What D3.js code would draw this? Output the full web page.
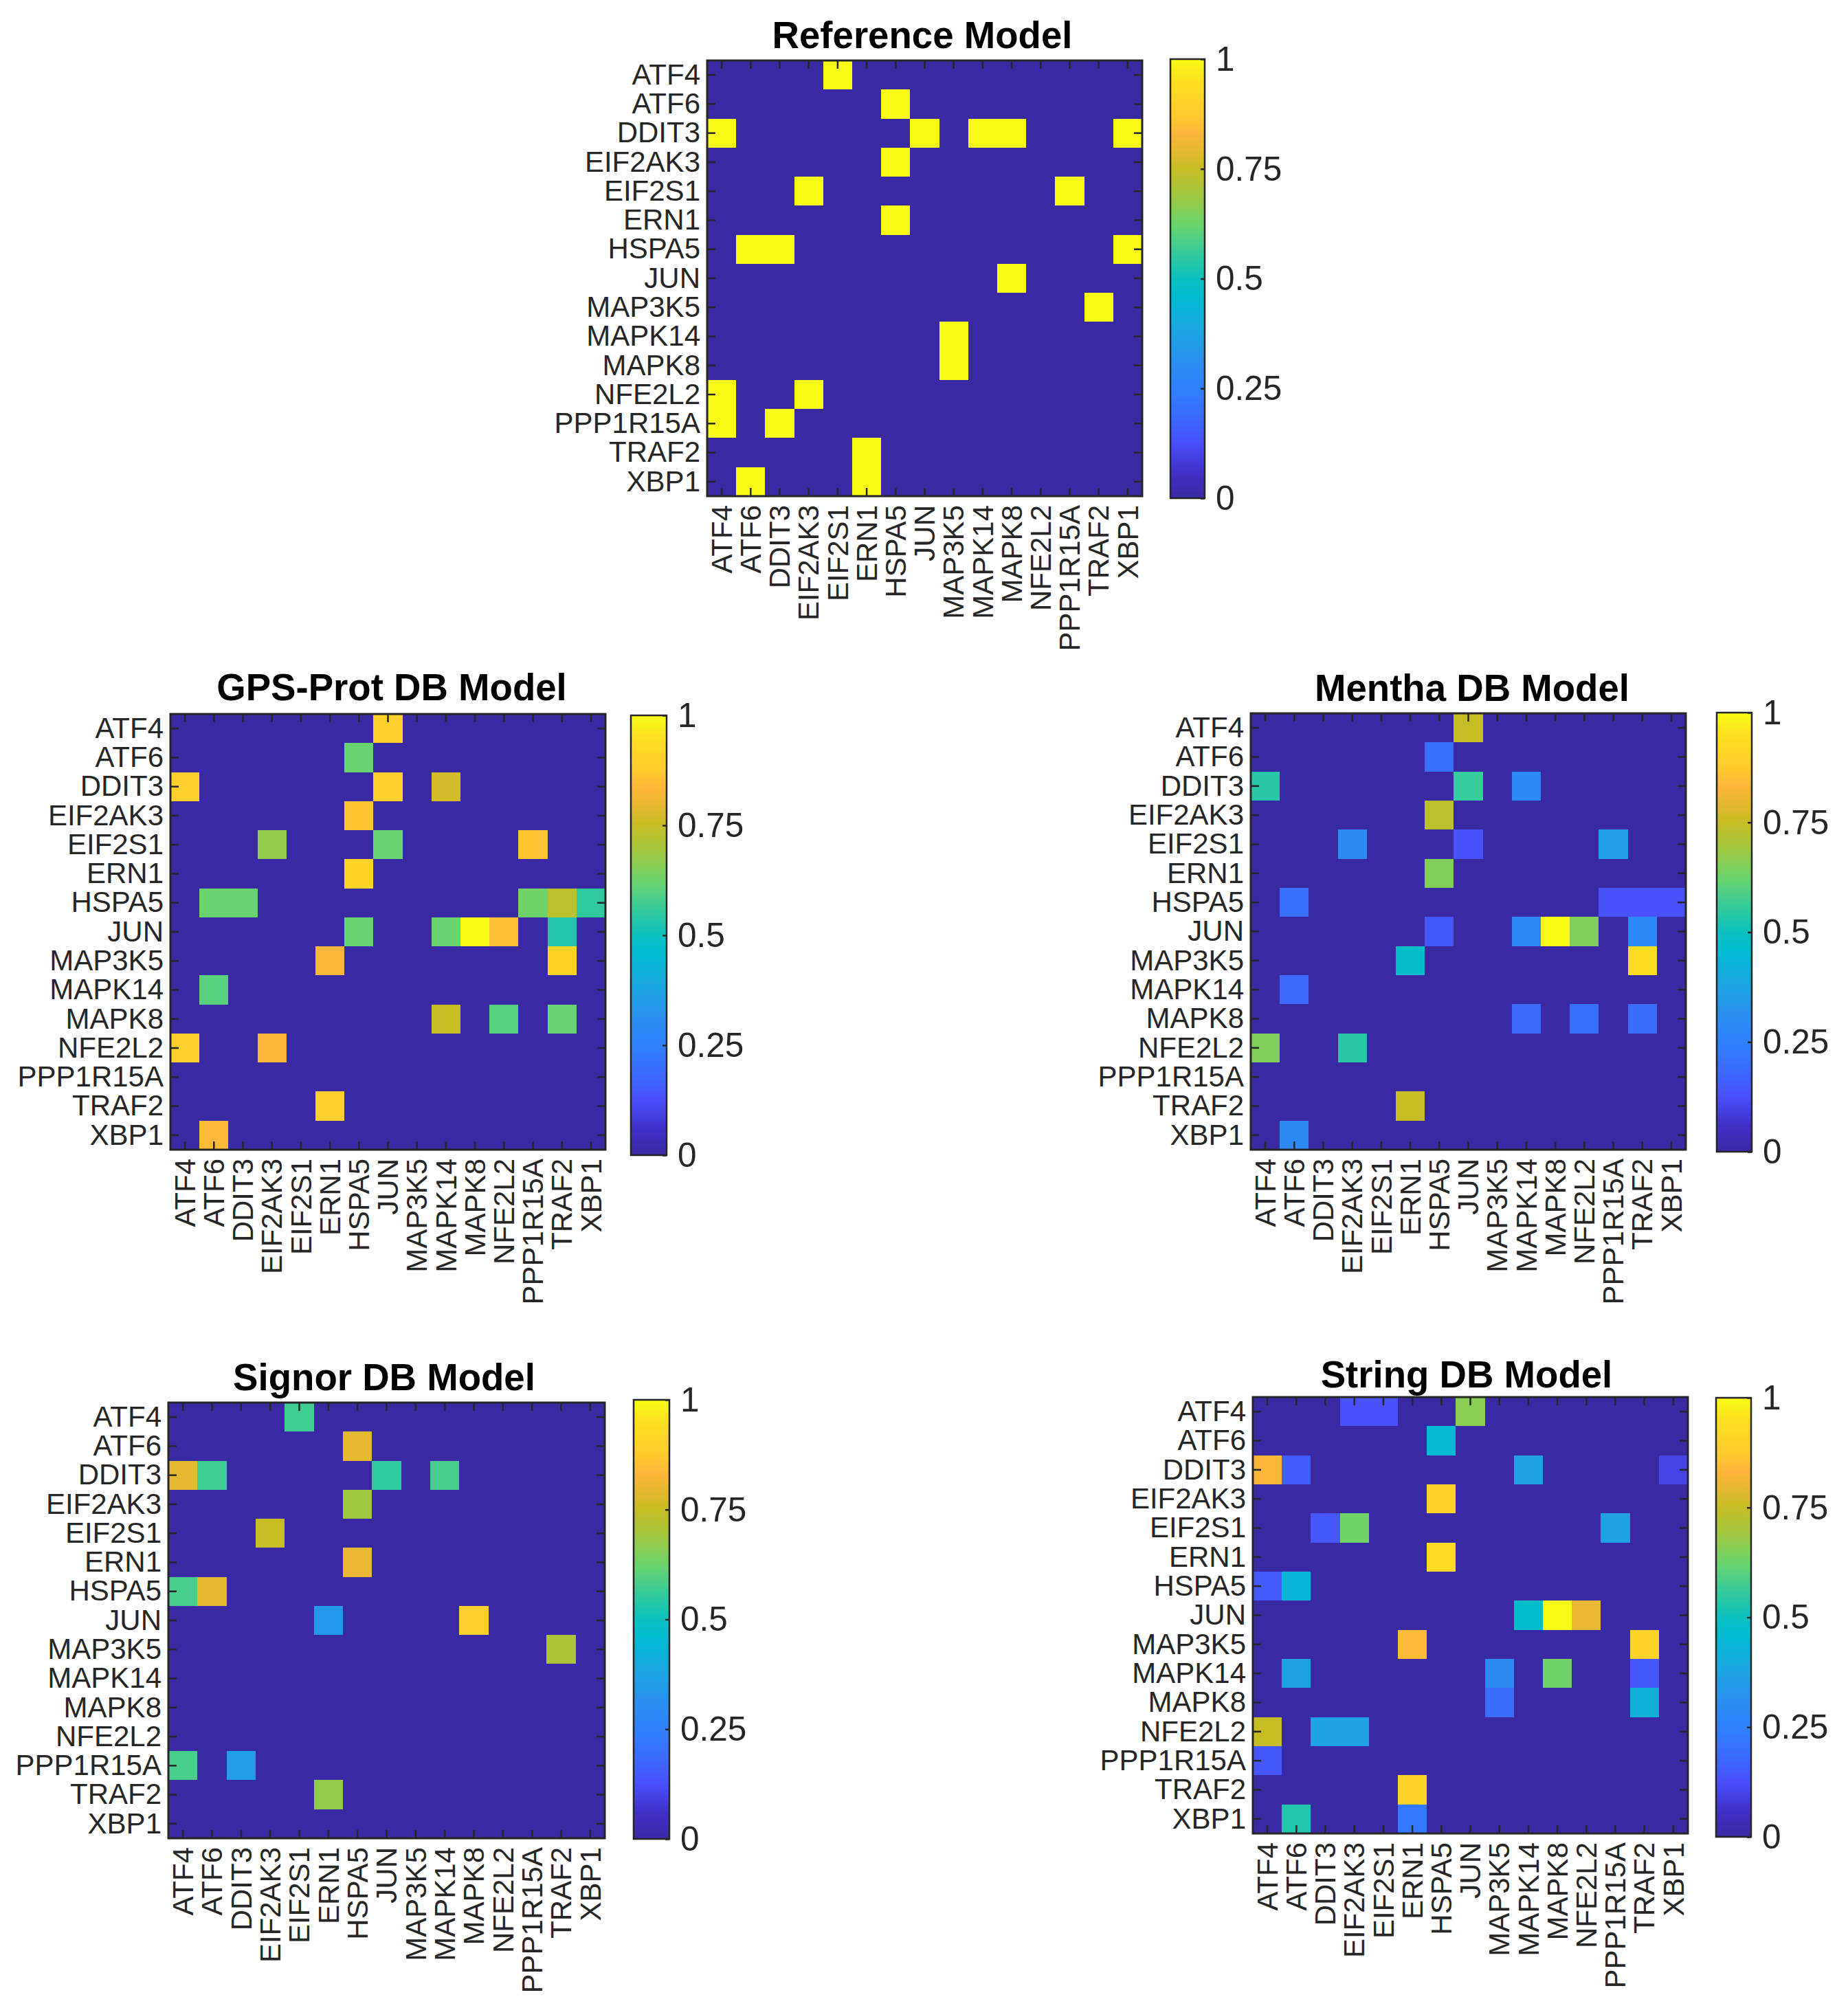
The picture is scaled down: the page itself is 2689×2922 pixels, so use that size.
<!DOCTYPE html>
<html>
<head>
<meta charset="utf-8">
<script src="https://cdnjs.cloudflare.com/ajax/libs/d3/7.8.5/d3.min.js"></script>
<style>
  body { margin: 0; background: #fff; }
  svg { display: block; }
  text { font-family: "Liberation Sans", sans-serif; }
</style>
</head>
<body>
<svg width="2689" height="2922"></svg>
<script>
const GENES = ['ATF4', 'ATF6', 'DDIT3', 'EIF2AK3', 'EIF2S1', 'ERN1', 'HSPA5', 'JUN', 'MAP3K5', 'MAPK14', 'MAPK8', 'NFE2L2', 'PPP1R15A', 'TRAF2', 'XBP1'];
const COLORBAR_TICKS = [0, 0.25, 0.5, 0.75, 1];

const referenceValues = [
  [0, 0, 0, 0, 1, 0, 0, 0, 0, 0, 0, 0, 0, 0, 0],
  [0, 0, 0, 0, 0, 0, 1, 0, 0, 0, 0, 0, 0, 0, 0],
  [1, 0, 0, 0, 0, 0, 0, 1, 0, 1, 1, 0, 0, 0, 1],
  [0, 0, 0, 0, 0, 0, 1, 0, 0, 0, 0, 0, 0, 0, 0],
  [0, 0, 0, 1, 0, 0, 0, 0, 0, 0, 0, 0, 1, 0, 0],
  [0, 0, 0, 0, 0, 0, 1, 0, 0, 0, 0, 0, 0, 0, 0],
  [0, 1, 1, 0, 0, 0, 0, 0, 0, 0, 0, 0, 0, 0, 1],
  [0, 0, 0, 0, 0, 0, 0, 0, 0, 0, 1, 0, 0, 0, 0],
  [0, 0, 0, 0, 0, 0, 0, 0, 0, 0, 0, 0, 0, 1, 0],
  [0, 0, 0, 0, 0, 0, 0, 0, 1, 0, 0, 0, 0, 0, 0],
  [0, 0, 0, 0, 0, 0, 0, 0, 1, 0, 0, 0, 0, 0, 0],
  [1, 0, 0, 1, 0, 0, 0, 0, 0, 0, 0, 0, 0, 0, 0],
  [1, 0, 1, 0, 0, 0, 0, 0, 0, 0, 0, 0, 0, 0, 0],
  [0, 0, 0, 0, 0, 1, 0, 0, 0, 0, 0, 0, 0, 0, 0],
  [0, 1, 0, 0, 0, 1, 0, 0, 0, 0, 0, 0, 0, 0, 0]
];

const gpsProtValues = [
  [0, 0, 0, 0, 0, 0, 0, 0.89, 0, 0, 0, 0, 0, 0, 0],
  [0, 0, 0, 0, 0, 0, 0.62, 0, 0, 0, 0, 0, 0, 0, 0],
  [0.89, 0, 0, 0, 0, 0, 0, 0.89, 0, 0.77, 0, 0, 0, 0, 0],
  [0, 0, 0, 0, 0, 0, 0.86, 0, 0, 0, 0, 0, 0, 0, 0],
  [0, 0, 0, 0.67, 0, 0, 0, 0.62, 0, 0, 0, 0, 0.86, 0, 0],
  [0, 0, 0, 0, 0, 0, 0.91, 0, 0, 0, 0, 0, 0, 0, 0],
  [0, 0.62, 0.62, 0, 0, 0, 0, 0, 0, 0, 0, 0, 0.63, 0.73, 0.55],
  [0, 0, 0, 0, 0, 0, 0.62, 0, 0, 0.62, 1, 0.85, 0, 0.53, 0],
  [0, 0, 0, 0, 0, 0.83, 0, 0, 0, 0, 0, 0, 0, 0.91, 0],
  [0, 0.6, 0, 0, 0, 0, 0, 0, 0, 0, 0, 0, 0, 0, 0],
  [0, 0, 0, 0, 0, 0, 0, 0, 0, 0.75, 0, 0.6, 0, 0.62, 0],
  [0.89, 0, 0, 0.83, 0, 0, 0, 0, 0, 0, 0, 0, 0, 0, 0],
  [0, 0, 0, 0, 0, 0, 0, 0, 0, 0, 0, 0, 0, 0, 0],
  [0, 0, 0, 0, 0, 0.89, 0, 0, 0, 0, 0, 0, 0, 0, 0],
  [0, 0.84, 0, 0, 0, 0, 0, 0, 0, 0, 0, 0, 0, 0, 0]
];

const menthaValues = [
  [0, 0, 0, 0, 0, 0, 0, 0.75, 0, 0, 0, 0, 0, 0, 0],
  [0, 0, 0, 0, 0, 0, 0.2, 0, 0, 0, 0, 0, 0, 0, 0],
  [0.54, 0, 0, 0, 0, 0, 0, 0.56, 0, 0.28, 0, 0, 0, 0, 0],
  [0, 0, 0, 0, 0, 0, 0.73, 0, 0, 0, 0, 0, 0, 0, 0],
  [0, 0, 0, 0.29, 0, 0, 0, 0.13, 0, 0, 0, 0, 0.36, 0, 0],
  [0, 0, 0, 0, 0, 0, 0.65, 0, 0, 0, 0, 0, 0, 0, 0],
  [0, 0.2, 0, 0, 0, 0, 0, 0, 0, 0, 0, 0, 0.13, 0.13, 0.13],
  [0, 0, 0, 0, 0, 0, 0.14, 0, 0, 0.28, 1, 0.65, 0, 0.28, 0],
  [0, 0, 0, 0, 0, 0.48, 0, 0, 0, 0, 0, 0, 0, 0.94, 0],
  [0, 0.18, 0, 0, 0, 0, 0, 0, 0, 0, 0, 0, 0, 0, 0],
  [0, 0, 0, 0, 0, 0, 0, 0, 0, 0.18, 0, 0.2, 0, 0.19, 0],
  [0.65, 0, 0, 0.54, 0, 0, 0, 0, 0, 0, 0, 0, 0, 0, 0],
  [0, 0, 0, 0, 0, 0, 0, 0, 0, 0, 0, 0, 0, 0, 0],
  [0, 0, 0, 0, 0, 0.75, 0, 0, 0, 0, 0, 0, 0, 0, 0],
  [0, 0.29, 0, 0, 0, 0, 0, 0, 0, 0, 0, 0, 0, 0, 0]
];

const signorValues = [
  [0, 0, 0, 0, 0.57, 0, 0, 0, 0, 0, 0, 0, 0, 0, 0],
  [0, 0, 0, 0, 0, 0, 0.79, 0, 0, 0, 0, 0, 0, 0, 0],
  [0.79, 0.57, 0, 0, 0, 0, 0, 0.55, 0, 0.58, 0, 0, 0, 0, 0],
  [0, 0, 0, 0, 0, 0, 0.69, 0, 0, 0, 0, 0, 0, 0, 0],
  [0, 0, 0, 0.75, 0, 0, 0, 0, 0, 0, 0, 0, 0, 0, 0],
  [0, 0, 0, 0, 0, 0, 0.8, 0, 0, 0, 0, 0, 0, 0, 0],
  [0.58, 0.79, 0, 0, 0, 0, 0, 0, 0, 0, 0, 0, 0, 0, 0],
  [0, 0, 0, 0, 0, 0.34, 0, 0, 0, 0, 0.89, 0, 0, 0, 0],
  [0, 0, 0, 0, 0, 0, 0, 0, 0, 0, 0, 0, 0, 0.71, 0],
  [0, 0, 0, 0, 0, 0, 0, 0, 0, 0, 0, 0, 0, 0, 0],
  [0, 0, 0, 0, 0, 0, 0, 0, 0, 0, 0, 0, 0, 0, 0],
  [0, 0, 0, 0, 0, 0, 0, 0, 0, 0, 0, 0, 0, 0, 0],
  [0.58, 0, 0.36, 0, 0, 0, 0, 0, 0, 0, 0, 0, 0, 0, 0],
  [0, 0, 0, 0, 0, 0.67, 0, 0, 0, 0, 0, 0, 0, 0, 0],
  [0, 0, 0, 0, 0, 0, 0, 0, 0, 0, 0, 0, 0, 0, 0]
];

const stringValues = [
  [0, 0, 0, 0.13, 0.13, 0, 0, 0.66, 0, 0, 0, 0, 0, 0, 0],
  [0, 0, 0, 0, 0, 0, 0.45, 0, 0, 0, 0, 0, 0, 0, 0],
  [0.83, 0.15, 0, 0, 0, 0, 0, 0, 0, 0.37, 0, 0, 0, 0, 0.1],
  [0, 0, 0, 0, 0, 0, 0.9, 0, 0, 0, 0, 0, 0, 0, 0],
  [0, 0, 0.14, 0.63, 0, 0, 0, 0, 0, 0, 0, 0, 0.37, 0, 0],
  [0, 0, 0, 0, 0, 0, 0.93, 0, 0, 0, 0, 0, 0, 0, 0],
  [0.15, 0.44, 0, 0, 0, 0, 0, 0, 0, 0, 0, 0, 0, 0, 0],
  [0, 0, 0, 0, 0, 0, 0, 0, 0, 0.47, 1, 0.8, 0, 0, 0],
  [0, 0, 0, 0, 0, 0.84, 0, 0, 0, 0, 0, 0, 0, 0.9, 0],
  [0, 0.37, 0, 0, 0, 0, 0, 0, 0.29, 0, 0.63, 0, 0, 0.14, 0],
  [0, 0, 0, 0, 0, 0, 0, 0, 0.19, 0, 0, 0, 0, 0.42, 0],
  [0.75, 0, 0.37, 0.37, 0, 0, 0, 0, 0, 0, 0, 0, 0, 0, 0],
  [0.14, 0, 0, 0, 0, 0, 0, 0, 0, 0, 0, 0, 0, 0, 0],
  [0, 0, 0, 0, 0, 0.9, 0, 0, 0, 0, 0, 0, 0, 0, 0],
  [0, 0.53, 0, 0, 0, 0.23, 0, 0, 0, 0, 0, 0, 0, 0, 0]
];

// colormap stops
const CMAP_DOMAIN = [0, 0.06, 0.125, 0.19, 0.25, 0.31, 0.39, 0.46, 0.5, 0.56, 0.62, 0.69, 0.75, 0.83, 0.875, 0.95, 1];
const CMAP_RANGE = ['#3929a3', '#4030c8', '#4850fa', '#3a6cff', '#2f80ff', '#2a8ff0', '#1aa8e0', '#00bcd0', '#0cc0c0', '#36cb9a', '#68d46f', '#a0c83f', '#c8bc24', '#fdb53a', '#ffcb2e', '#fde020', '#f9fb15'];
const color = d3.scaleLinear().domain(CMAP_DOMAIN).range(CMAP_RANGE);

// plot box, colorbar box and title anchor of each panel, in page pixels
const panels = [
  { title: 'Reference Model', values: referenceValues, box: [1029, 88, 1662, 722], bar: [1703, 86, 1753, 725], titleAt: [1342, 70] },
  { title: 'GPS-Prot DB Model', values: gpsProtValues, box: [248, 1039, 881, 1673], bar: [918, 1041, 970, 1681], titleAt: [570, 1019] },
  { title: 'Mentha DB Model', values: menthaValues, box: [1820, 1038, 2453, 1673], bar: [2498, 1037, 2549, 1676], titleAt: [2142, 1020] },
  { title: 'Signor DB Model', values: signorValues, box: [245, 2041, 880, 2675], bar: [922, 2037, 974, 2676], titleAt: [559, 2023] },
  { title: 'String DB Model', values: stringValues, box: [1823, 2033, 2456, 2668], bar: [2497, 2034, 2548, 2673], titleAt: [2134, 2019] }
];

const svg = d3.select('svg');
const INK = '#262626';

const gradient = svg.append('defs').append('linearGradient')
    .attr('id', 'cmap')
    .attr('x1', 0).attr('y1', 1).attr('x2', 0).attr('y2', 0);
gradient.selectAll('stop')
  .data(CMAP_DOMAIN)
  .enter().append('stop')
    .attr('offset', d => d)
    .attr('stop-color', d => color(d));

function styleAxis(axis) {
  axis.select('.domain').remove();
  axis.selectAll('line').attr('stroke', INK).attr('stroke-width', 2.5);
  axis.selectAll('text').attr('fill', INK);
}

function drawPanel(panel) {
  const [left, top, right, bottom] = panel.box;
  const g = svg.append('g');

  const x = d3.scaleBand().domain(GENES).range([left, right]);
  const y = d3.scaleBand().domain(GENES).range([top, bottom]);

  g.append('g')
    .selectAll('g')
    .data(panel.values)
    .enter().append('g')
      .attr('transform', (d, i) => `translate(0,${y(GENES[i])})`)
    .selectAll('rect')
    .data(d => d)
    .enter().append('rect')
      .attr('x', (d, i) => x(GENES[i]))
      .attr('width', x.bandwidth())
      .attr('height', y.bandwidth())
      .attr('shape-rendering', 'crispEdges')
      .attr('fill', d => color(d));

  // tick marks point inwards on all four sides
  const bottomAxis = g.append('g')
      .attr('transform', `translate(0,${bottom})`)
      .call(d3.axisBottom(x).tickSizeInner(-12).tickSizeOuter(0));
  styleAxis(bottomAxis);
  bottomAxis.selectAll('text')
      .attr('font-size', 42)
      .attr('text-anchor', 'end')
      .attr('transform', 'rotate(-90)')
      .attr('x', -13)
      .attr('y', 0)
      .attr('dy', '0.35em');

  const leftAxis = g.append('g')
      .attr('transform', `translate(${left},0)`)
      .call(d3.axisLeft(y).tickSizeInner(-12).tickSizeOuter(0));
  styleAxis(leftAxis);
  leftAxis.selectAll('text')
      .attr('font-size', 42)
      .attr('x', -10)
      .attr('y', -1)
      .attr('dy', '0.35em');

  styleAxis(g.append('g')
      .attr('transform', `translate(0,${top})`)
      .call(d3.axisTop(x).tickSizeInner(-12).tickSizeOuter(0).tickFormat('')));
  styleAxis(g.append('g')
      .attr('transform', `translate(${right},0)`)
      .call(d3.axisRight(y).tickSizeInner(-12).tickSizeOuter(0).tickFormat('')));

  g.append('rect')
      .attr('x', left)
      .attr('y', top)
      .attr('width', right - left)
      .attr('height', bottom - top)
      .attr('fill', 'none')
      .attr('stroke', INK)
      .attr('stroke-width', 3);

  g.append('text')
      .attr('x', panel.titleAt[0])
      .attr('y', panel.titleAt[1])
      .attr('text-anchor', 'middle')
      .attr('font-size', 54.6)
      .attr('font-weight', 'bold')
      .attr('fill', '#000')
      .text(panel.title);

  // colorbar
  const [barLeft, barTop, barRight, barBottom] = panel.bar;
  const barScale = d3.scaleLinear().domain([0, 1]).range([barBottom, barTop]);
  g.append('rect')
      .attr('x', barLeft)
      .attr('y', barTop)
      .attr('width', barRight - barLeft)
      .attr('height', barBottom - barTop)
      .attr('fill', 'url(#cmap)')
      .attr('stroke', INK)
      .attr('stroke-width', 2.5);
  const barAxis = g.append('g')
      .attr('transform', `translate(${barRight},0)`)
      .call(d3.axisRight(barScale)
        .tickValues(COLORBAR_TICKS)
        .tickFormat(d => String(d))
        .tickSizeInner(-6)
        .tickSizeOuter(0));
  styleAxis(barAxis);
  barAxis.selectAll('text')
      .attr('font-size', 49.5)
      .attr('x', 16)
      .attr('y', -1)
      .attr('dy', '0.35em');
}

panels.forEach(drawPanel);
</script>
</body>
</html>
